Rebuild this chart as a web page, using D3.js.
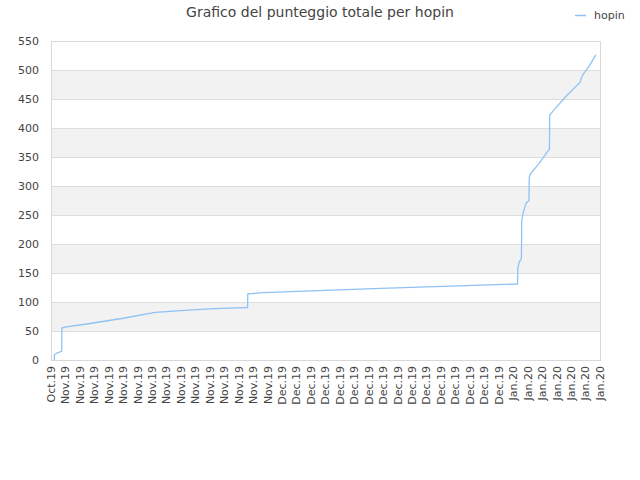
<!DOCTYPE html>
<html>
<head>
<meta charset="utf-8">
<script src="https://cdn.jsdelivr.net/npm/d3@7"></script>
<style>
  body { margin: 0; background: #fff; }
  svg { display: block; font-family: "DejaVu Sans", sans-serif; }
</style>
</head>
<body>
<svg id="chart" width="640" height="480"></svg>
<script>
// cumulative score for hopin
const pointTimes = [
  '2019-10-30 11:00', '2019-10-30 11:30', '2019-10-30 19:00', '2019-10-31 06:00',
  '2019-10-31 11:30', '2019-10-31 12:00', '2019-11-01 02:00', '2019-11-04 04:00',
  '2019-11-09 00:00', '2019-11-13 10:00', '2019-11-15 00:00', '2019-11-18 12:00',
  '2019-11-21 17:00', '2019-11-24 17:00', '2019-11-26 05:00', '2019-11-26 06:00',
  '2019-11-26 19:00', '2019-11-28 10:00', '2019-12-13 14:00', '2019-12-31 19:00',
  '2020-01-02 14:00', '2020-01-02 15:00', '2020-01-02 19:00', '2020-01-03 03:00',
  '2020-01-03 04:00', '2020-01-03 09:00', '2020-01-03 18:00', '2020-01-04 04:00',
  '2020-01-04 05:00', '2020-01-04 10:00', '2020-01-05 14:00', '2020-01-07 00:00',
  '2020-01-07 01:00', '2020-01-07 13:00', '2020-01-09 04:00', '2020-01-10 13:00',
  '2020-01-11 05:00', '2020-01-11 14:00', '2020-01-12 14:00', '2020-01-13 10:00'
];
const pointScores = [
  0, 9, 12, 14,
  15, 55, 57, 62.5,
  72, 82, 83.5, 86.5,
  88.5, 90, 90.5, 114,
  114.5, 116, 123, 130.5,
  131, 158, 168, 175,
  241, 254, 270, 275,
  315, 322, 339, 364,
  422, 430, 453, 470,
  478, 491, 508.5, 526
];
const seriesName = 'hopin';
const chartTitle = 'Grafico del punteggio totale per hopin';
const yTicks = [0, 50, 100, 150, 200, 250, 300, 350, 400, 450, 500, 550];
const tickStart = '2019-10-30';
const tickEnd = '2020-01-14';

const parseTime = d3.timeParse('%Y-%m-%d %H:%M');
const parseDay = d3.timeParse('%Y-%m-%d');
const data = pointTimes.map((t, i) => ({ date: parseTime(t), value: pointScores[i] }));

const margin = { top: 41, right: 40, bottom: 120, left: 51 };
const width = 640;
const height = 480;
const innerW = width - margin.left - margin.right;
const innerH = height - margin.top - margin.bottom;
const textColor = '#444';

const svg = d3.select('#chart');
const g = svg.append('g').attr('transform', `translate(${margin.left},${margin.top})`);

const x = d3.scaleTime()
  .domain([parseDay(tickStart), parseDay(tickEnd)])
  .range([0, innerW]);
const y = d3.scaleLinear().domain([0, 550]).range([innerH, 0]);

// alternating bands
const bands = d3.pairs(yTicks).filter((p, i) => i % 2 === 1);
g.selectAll('.band')
  .data(bands)
  .enter().append('rect')
  .attr('x', 0)
  .attr('width', innerW)
  .attr('y', d => y(d[1]))
  .attr('height', d => y(d[0]) - y(d[1]))
  .attr('fill', '#f2f2f2');

// grid lines
g.selectAll('.grid')
  .data(yTicks)
  .enter().append('line')
  .attr('x1', 0)
  .attr('x2', innerW)
  .attr('y1', d => Math.round(y(d)) + 0.5)
  .attr('y2', d => Math.round(y(d)) + 0.5)
  .attr('stroke', '#dddddd');

// border
g.append('rect')
  .attr('x', 0.5)
  .attr('y', 0.5)
  .attr('width', innerW)
  .attr('height', innerH)
  .attr('fill', 'none')
  .attr('stroke', '#d8d8d8');

// y labels
g.selectAll('.ylab')
  .data(yTicks)
  .enter().append('text')
  .attr('x', -12)
  .attr('y', d => y(d))
  .attr('dy', '0.35em')
  .attr('text-anchor', 'end')
  .attr('font-size', 11)
  .attr('fill', textColor)
  .text(d => d);

// x labels, every 2 days
const tickDates = d3.timeDay.range(parseDay(tickStart), d3.timeDay.offset(parseDay(tickEnd), 1), 2);
const fmt = d3.timeFormat('%b.%y');
g.selectAll('.xlab')
  .data(tickDates)
  .enter().append('text')
  .attr('transform', d => `translate(${x(d)},${innerH + 6}) rotate(-90)`)
  .attr('dy', '0.35em')
  .attr('text-anchor', 'end')
  .attr('font-size', 11)
  .attr('fill', textColor)
  .text(d => fmt(d));

// score line
const line = d3.line()
  .x(d => x(d.date))
  .y(d => y(d.value));

g.append('path')
  .datum(data)
  .attr('d', line)
  .attr('fill', 'none')
  .attr('stroke', '#8fc2f4')
  .attr('stroke-width', 1.3);

// title
svg.append('text')
  .attr('x', 320)
  .attr('y', 17)
  .attr('text-anchor', 'middle')
  .attr('font-size', 14)
  .attr('fill', textColor)
  .text(chartTitle);

// legend
svg.append('line')
  .attr('x1', 575)
  .attr('x2', 586)
  .attr('y1', 15.5)
  .attr('y2', 15.5)
  .attr('stroke', '#8fc2f4')
  .attr('stroke-width', 1.5);
svg.append('text')
  .attr('x', 594)
  .attr('y', 15)
  .attr('dy', '0.35em')
  .attr('font-size', 11)
  .attr('fill', textColor)
  .text(seriesName);
</script>
</body>
</html>
